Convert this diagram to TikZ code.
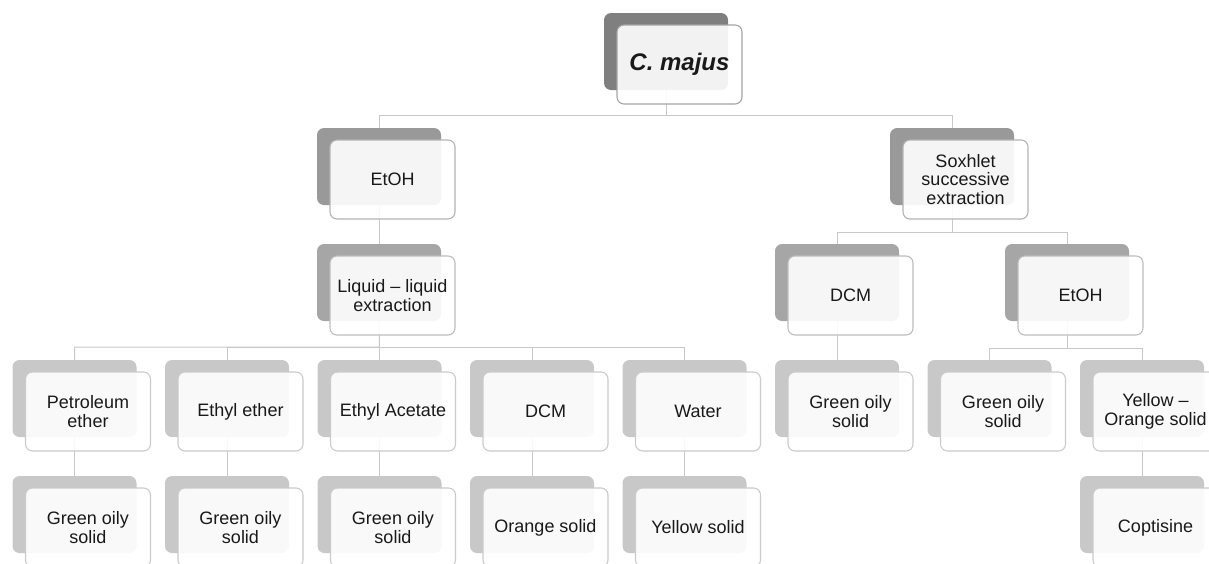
\documentclass[tikz,border=0pt]{standalone}
\usepackage{fontspec}
\setmainfont{Liberation Sans}
\pgfdeclarelayer{bg}
\pgfsetlayers{bg,main}
\definecolor{linegray}{HTML}{C8C8C8}
\definecolor{shA}{HTML}{7F7F7F}
\definecolor{shB}{HTML}{999999}
\definecolor{shC}{HTML}{A6A6A6}
\definecolor{shD}{HTML}{C8C8C8}
\definecolor{bdA}{HTML}{A5A5A5}
\definecolor{bdB}{HTML}{B3B3B3}
\definecolor{bdC}{HTML}{BDBDBD}
\definecolor{bdD}{HTML}{CBCBCB}
\tikzset{
  shad/.style={rectangle, rounded corners=7pt, minimum width=124pt, minimum height=77pt,
    inner sep=0pt, outer sep=0pt, anchor=north west},
  frontbox/.style={rectangle, rounded corners=7pt, minimum width=125pt, minimum height=79pt,
    inner sep=2pt, outer sep=0pt, fill=white, fill opacity=0.9, text opacity=1,
    line width=1.1pt, align=center, text=black!90,
    font=\fontsize{18}{18.5}\selectfont, anchor=north west},
  conn/.style={draw=linegray, line width=1pt},
}
\newcommand\mybox[6]{%
  \node[shad, fill=#4] (#1s) at (#2,#3) {};
  \node[frontbox, draw=#5] (#1) at ([xshift=13pt,yshift=-12pt]#1s.north west) {#6};
}
\begin{document}
\begin{tikzpicture}[x=1pt,y=-1pt]
\useasboundingbox (0,0) rectangle (1209,563);
\clip (0,0) rectangle (1209,563);
% level 1
\mybox{root}{604}{13}{shA}{bdA}{\fontsize{24}{24}\selectfont\bfseries\itshape C. majus}
% level 2
\mybox{etA}{317}{128}{shB}{bdB}{EtOH}
\mybox{sox}{890}{128}{shB}{bdB}{Soxhlet\\successive\\extraction}
% level 3
\mybox{lle}{317}{244}{shC}{bdC}{Liquid -- liquid\\extraction}
\mybox{dcmA}{775}{244}{shC}{bdC}{DCM}
\mybox{etB}{1005}{244}{shC}{bdC}{EtOH}
% level 4
\mybox{pet}{12.5}{360}{shD}{bdD}{Petroleum\\ether}
\mybox{eth}{165}{360}{shD}{bdD}{Ethyl ether}
\mybox{eac}{317.5}{360}{shD}{bdD}{Ethyl Acetate}
\mybox{dcmB}{470}{360}{shD}{bdD}{DCM}
\mybox{wat}{622.5}{360}{shD}{bdD}{Water}
\mybox{gA}{775}{360}{shD}{bdD}{Green oily\\solid}
\mybox{gB}{927.5}{360}{shD}{bdD}{Green oily\\solid}
\mybox{yo}{1080}{360}{shD}{bdD}{Yellow --\\Orange solid}
% level 5
\mybox{g1}{12.5}{476}{shD}{bdD}{Green oily\\solid}
\mybox{g2}{165}{476}{shD}{bdD}{Green oily\\solid}
\mybox{g3}{317.5}{476}{shD}{bdD}{Green oily\\solid}
\mybox{ors}{470}{476}{shD}{bdD}{Orange solid}
\mybox{ys}{622.5}{476}{shD}{bdD}{Yellow solid}
\mybox{cop}{1080}{476}{shD}{bdD}{Coptisine}
% connectors
\begin{pgfonlayer}{bg}
\coordinate (b1) at (666,115);
\coordinate (b2) at (952,232);
\coordinate (b3) at (379.5,347);
\coordinate (b4) at (1067,348);
\draw[conn] (roots.south) -- (b1) -| (etAs.north);
\draw[conn] (b1) -| (soxs.north);
\draw[conn] (etAs.south) -- (lles.north);
\draw[conn] (soxs.south) -- (b2) -| (dcmAs.north);
\draw[conn] (b2) -| (etBs.north);
\draw[conn] (lles.south) -- (b3) -| (pets.north);
\draw[conn] (b3) -| (eths.north);
\draw[conn] (b3) -- (eacs.north);
\draw[conn] (b3) -| (dcmBs.north);
\draw[conn] (b3) -| (wats.north);
\draw[conn] (dcmAs.south) -- (gAs.north);
\draw[conn] (etBs.south) -- (b4) -| (gBs.north);
\draw[conn] (b4) -| (yos.north);
\draw[conn] (pets.south) -- (g1s.north);
\draw[conn] (eths.south) -- (g2s.north);
\draw[conn] (eacs.south) -- (g3s.north);
\draw[conn] (dcmBs.south) -- (orss.north);
\draw[conn] (wats.south) -- (yss.north);
\draw[conn] (yos.south) -- (cops.north);
\end{pgfonlayer}
\end{tikzpicture}
\end{document}
